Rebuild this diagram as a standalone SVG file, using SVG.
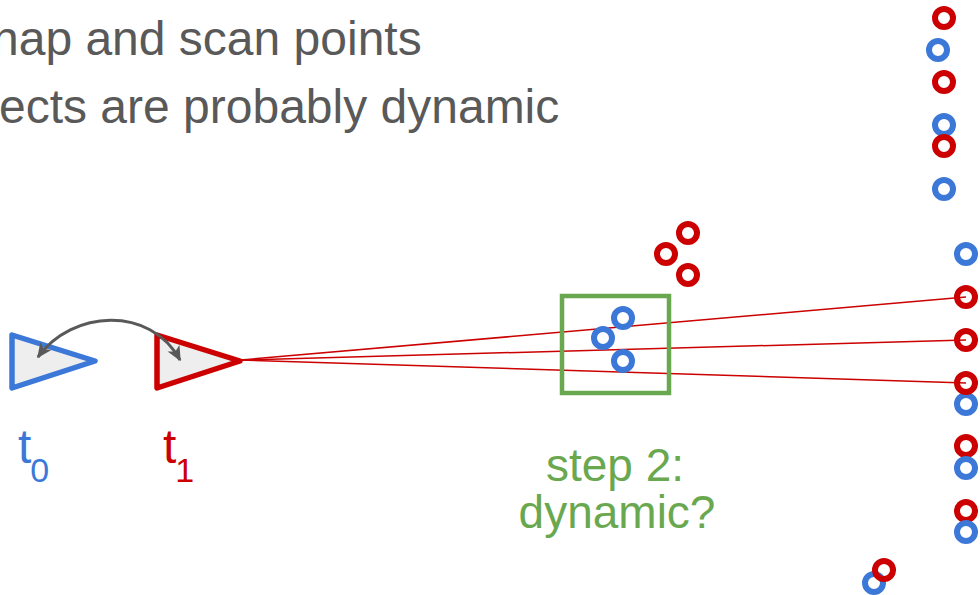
<svg xmlns="http://www.w3.org/2000/svg" width="980" height="595" viewBox="0 0 980 595">
<defs>
<style>
.title{font-family:"Liberation Sans",Arial,sans-serif;font-size:48px;fill:#595959}
.lbl{font-family:"Liberation Sans",Arial,sans-serif;font-size:48px}
.sub{font-size:34px}
.step{font-family:"Liberation Sans",Arial,sans-serif;font-size:46px;fill:#6aa84f;text-anchor:middle}
.r{fill:none;stroke:#cc0000;stroke-width:6}
.b{fill:none;stroke:#3c78d8;stroke-width:6}
.ray{stroke:#cc0000;stroke-width:1.5;fill:none}
</style>
<marker id="ah" viewBox="0 0 10 10" refX="9" refY="5" markerWidth="15" markerHeight="15" orient="auto-start-reverse" markerUnits="userSpaceOnUse">
<path d="M0,0.5 L10,5 L0,9.5 L2.5,5 Z" fill="#595959"/>
</marker>
</defs>
<rect width="980" height="595" fill="#ffffff"/>
<g id="title">
<text class="title" x="-8" y="55">nap and scan points</text>
<text class="title" x="-1" y="123">ects are probably dynamic</text>
</g>
<g id="connectors">
<line class="ray" x1="241" y1="360" x2="966" y2="297"/>
<line class="ray" x1="241" y1="360" x2="966" y2="340"/>
<line class="ray" x1="241" y1="360" x2="966" y2="383"/>
</g>
<g id="pose-t0">
<polygon points="12,335 95,361 12,388" fill="#eeeeee" stroke="#3c78d8" stroke-width="5.5" stroke-linejoin="round"/>
<text class="lbl" x="18" y="463" fill="#3c78d8">t<tspan class="sub" dx="-1" dy="19">0</tspan></text>
</g>
<g id="pose-t1">
<polygon points="157,335 240,361 157,388" fill="#eeeeee" stroke="#cc0000" stroke-width="5.5" stroke-linejoin="round"/>
<text class="lbl" x="163" y="463" fill="#cc0000">t<tspan class="sub" dx="-1" dy="19">1</tspan></text>
</g>
<g id="motion">
<path d="M38,357 C72,310 150,305 180,360" fill="none" stroke="#595959" stroke-width="3" marker-start="url(#ah)" marker-end="url(#ah)"/>
</g>
<g id="step2">
<rect x="562" y="296" width="107" height="97" fill="none" stroke="#6aa84f" stroke-width="4.5"/>
<text class="step" x="615" y="481">step 2:</text>
<text class="step" x="617" y="528">dynamic?</text>
</g>
<g id="scan-points">
<circle class="r" cx="688" cy="233" r="9"/>
<circle class="r" cx="666" cy="254" r="9"/>
<circle class="r" cx="688" cy="275" r="9"/>
<circle class="r" cx="944" cy="18" r="9"/>
<circle class="r" cx="944" cy="82" r="9"/>
<circle class="r" cx="966" cy="297" r="9"/>
<circle class="r" cx="966" cy="340" r="9"/>
<circle class="r" cx="966" cy="446" r="9"/>
<circle class="r" cx="966" cy="511" r="9"/>
</g>
<g id="map-points">
<circle class="b" cx="623" cy="318" r="9"/>
<circle class="b" cx="603" cy="338" r="9"/>
<circle class="b" cx="623" cy="361" r="9"/>
<circle class="b" cx="938" cy="50" r="9"/>
<circle class="b" cx="944" cy="125" r="9"/>
<circle class="b" cx="944" cy="189" r="9"/>
<circle class="b" cx="966" cy="254" r="9"/>
<circle class="b" cx="966" cy="404" r="9"/>
<circle class="b" cx="966" cy="468" r="9"/>
<circle class="b" cx="966" cy="532" r="9"/>
<circle class="b" cx="874" cy="583" r="9"/>
</g>
<g id="overlap-points">
<circle class="r" cx="944" cy="146" r="9"/>
<circle class="r" cx="966" cy="383" r="9"/>
<circle class="r" cx="884" cy="570" r="9"/>
</g>
</svg>
